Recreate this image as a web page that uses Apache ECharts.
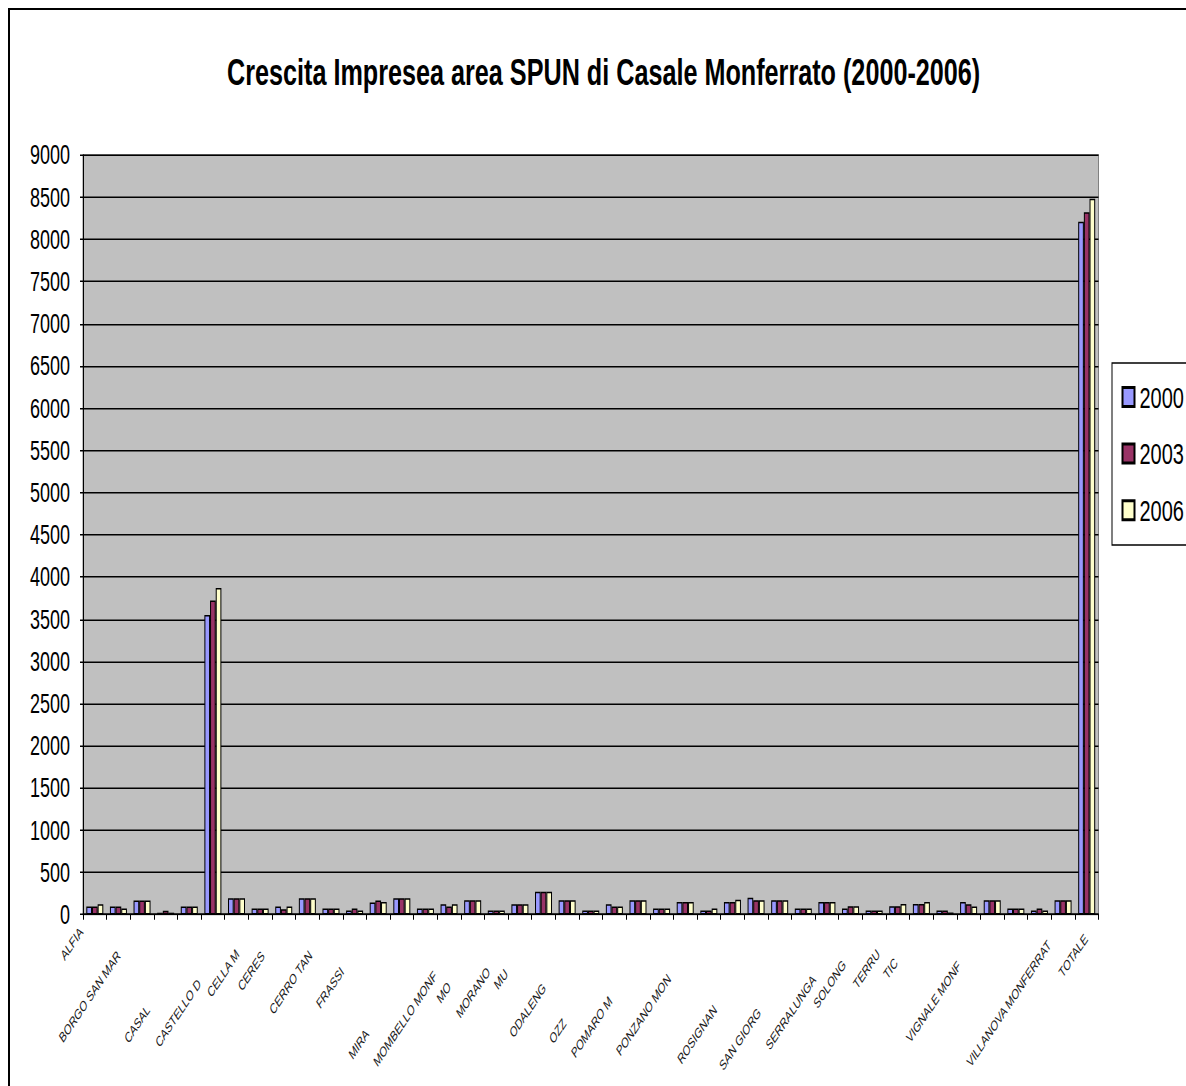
<!DOCTYPE html>
<html>
<head>
<meta charset="utf-8">
<script src="https://cdn.jsdelivr.net/npm/echarts@6/dist/echarts.min.js"></script>
<style>
  html, body { margin: 0; padding: 0; background: #fff; overflow: hidden; width: 1186px; height: 1086px; }
  #frame { position: absolute; left: 8px; top: 8px; width: 1400px; height: 1400px;
           border-left: 2px solid #000; border-top: 2px solid #000; }
  /* the chart is laid out on a 1186x724 surface and stretched vertically to fill the page */
  #chart { position: absolute; left: 0; top: 0; width: 1186px; height: 724px;
           transform: scaleY(1.5); transform-origin: 0 0; }
</style>
</head>
<body>
<div id="frame"></div>
<div id="chart"></div>
<script>
// Comuni of the SPUN area, plus the overall total
const categories = [
  'ALFIANO NATTA', 'BALZOLA', 'BORGO SAN MARTINO', 'BOZZOLE', 'CAMAGNA MONFERRATO',
  'CASALE MONFERRATO', 'CASTELLETTO MERLI', 'CELLA MONTE', 'CERESETO', 'CERRINA MONFERRATO',
  'CERRO TANARO', 'CONIOLO', 'FRASSINELLO MONFERRATO', 'FRASSINETO PO', 'GABIANO',
  'MIRABELLO MONFERRATO', 'MOMBELLO MONFERRATO', 'MONCESTINO', 'MORANO SUL PO', 'MURISENGO',
  'OCCIMIANO', 'ODALENGO GRANDE', 'ODALENGO PICCOLO', 'OZZANO MONFERRATO', 'POMARO MONFERRATO',
  'PONTESTURA', 'PONZANO MONFERRATO', 'OLIVOLA', 'OTTIGLIO', 'ROSIGNANO MONFERRATO',
  'SALA MONFERRATO', 'SAN GIORGIO MONFERRATO', 'SERRALUNGA DI CREA', 'SOLONGHELLO', 'TERRUGGIA',
  'TICINETO', 'TREVILLE', 'VALMACCA', 'VIGNALE MONFERRATO', 'VILLADEATI',
  'VILLAMIROGLIO', 'VILLANOVA MONFERRATO', 'TOTALE'
];

// Text printed under each category (clipped names, some left blank)
const tickLabels = [
  'ALFIA', '', 'BORGO SAN MAR', '', '',
  'CASAL', 'CASTELLO D', 'CELLA M', 'CERES', '',
  'CERRO TAN', '', 'FRASSI', '', '',
  'MIRA', 'MOMBELLO MONF', 'MO', 'MORANO', 'MU',
  '', 'ODALENG', '', 'OZZ', 'POMARO M',
  '', 'PONZANO MON', '', '', 'ROSIGNAN',
  '', 'SAN GIORG', 'SERRALUNGA', 'SOLONG', 'TERRU',
  'TIC', '', '', 'VIGNALE MONF', '',
  '', 'VILLANOVA MONFERRAT', 'TOTALE'
];

const years = ['2000', '2003', '2006'];

// Number of businesses per comune
const imprese2000 = [95, 95, 166, 20, 95, 3550, 194, 71, 95, 194, 71, 47, 142, 194, 71, 123, 170, 47, 123, 269, 170, 47, 123, 170, 71, 150, 47, 150, 198, 170, 71, 150, 71, 47, 99, 126, 47, 150, 170, 71, 47, 170, 8210];
const imprese2003 = [95, 95, 166, 45, 95, 3720, 194, 71, 63, 194, 71, 71, 166, 194, 71, 95, 170, 47, 123, 269, 170, 47, 95, 170, 71, 150, 47, 150, 170, 170, 71, 150, 99, 47, 99, 126, 47, 123, 170, 71, 71, 170, 8320];
const imprese2006 = [123, 71, 166, 22, 95, 3870, 194, 71, 95, 194, 71, 47, 150, 194, 71, 123, 170, 47, 123, 269, 170, 47, 95, 170, 71, 150, 71, 174, 170, 170, 71, 150, 99, 47, 126, 150, 24, 95, 170, 71, 47, 170, 8480];

const yTicks = { min: 0, max: 9000, step: 500 };

// Layout only: how far each slanted label slides down along its baseline,
// and how far it is nudged across it (negative = towards the upper left)
const labelDrop = [13.7, 0, 31.8, 0, 0, 86.6, 55.0, 30.7, 30.3, 0, 29.7, 0, 48.4, 0, 0, 110.1, 51.4, 63.4, 45.5, 50.3, 0, 63.5, 0, 99.3, 73.0, 0, 54.4, 0, 0, 86.5, 0, 90.2, 52.5, 40.9, 28.4, 36.8, 0, 0, 43.6, 0, 0, 20.2, 7.9];
const labelShift = [-5.2, 0, -0.7, 0, 0, -4.6, 2.5, -0.4, 0, 0, 0.6, 0, -2.2, 0, 0, -5.4, -1.3, -3.0, 0.8, -2.3, 0, -2.1, 0, -4.5, 0.5, 0, -1.5, 0, 0, -4.5, 0, -5.4, 1.2, -1.3, 0.8, 0, 0, 0, -3.0, 0, 0, 0.6, 7.2];

const FONT = "'Liberation Sans', Arial, sans-serif";
const LABEL_LINE = 2;
const colors = ['#9999FF', '#993366', '#FFFFCC'];
const seriesValues = [imprese2000, imprese2003, imprese2006];

// With a thin line box the glyphs stay centred on it, so top/bottom anchoring
// plus padding moves a label across its baseline.
function labelStyle(i) {
  const s = labelShift[i];
  const half = LABEL_LINE / 2;
  if (s < 0) {
    return { verticalAlign: 'bottom', padding: [0, labelDrop[i], Math.max(0, -s - half), 0] };
  }
  return { verticalAlign: 'top', padding: [Math.max(0, s - half), labelDrop[i], 0, 0] };
}

const chart = echarts.init(document.getElementById('chart'), null, { renderer: 'svg' });

chart.setOption({
  animation: false,
  backgroundColor: 'transparent',
  title: {
    text: 'Crescita Impresea area SPUN di Casale Monferrato (2000-2006)',
    left: 222,
    top: 30,
    padding: 5,
    textStyle: { fontFamily: FONT, fontWeight: 'bold', fontSize: 25.2, lineHeight: 26, color: '#000' }
  },
  legend: {
    orient: 'vertical',
    left: 1112,
    top: 242,
    padding: [12.7, 60, 13.2, 9.5],
    itemWidth: 12,
    itemHeight: 12.7,
    itemGap: 17.7,
    borderColor: '#000',
    borderWidth: 1,
    backgroundColor: '#fff',
    icon: 'rect',
    textStyle: { fontFamily: FONT, fontSize: 20, color: '#000' },
    data: years
  },
  grid: {
    left: 83, top: 103.3, width: 1015.5, height: 506.4,
    show: true, backgroundColor: '#C0C0C0', borderColor: '#808080', borderWidth: 1,
    outerBoundsMode: 'none'
  },
  xAxis: {
    type: 'category',
    data: categories.map((name, i) => ({ value: name, textStyle: labelStyle(i) })),
    axisLine: { lineStyle: { color: '#000', width: 1 } },
    axisTick: { show: true, interval: 0, length: 3.5, lineStyle: { color: '#000' } },
    axisLabel: {
      interval: 0,
      rotate: 45,
      margin: 4,
      fontFamily: FONT,
      fontSize: 9.6,
      lineHeight: LABEL_LINE,
      color: '#1a1a1a',
      formatter: (value, index) => tickLabels[index]
    },
    splitLine: { show: false }
  },
  yAxis: {
    type: 'value',
    min: yTicks.min, max: yTicks.max, interval: yTicks.step,
    axisLine: { show: true, lineStyle: { color: '#000', width: 1 } },
    axisTick: { show: true, length: 3, lineStyle: { color: '#000' } },
    axisLabel: { fontFamily: FONT, fontSize: 18, color: '#000', margin: 13, formatter: v => String(v) },
    splitLine: { show: true, lineStyle: { color: '#000', width: 1 } }
  },
  series: years.map((year, k) => ({
    name: year,
    type: 'bar',
    data: seriesValues[k],
    barGap: '0%',
    barCategoryGap: '28%',
    itemStyle: { color: colors[k], borderColor: '#000', borderWidth: 1 }
  }))
});
</script>
</body>
</html>
